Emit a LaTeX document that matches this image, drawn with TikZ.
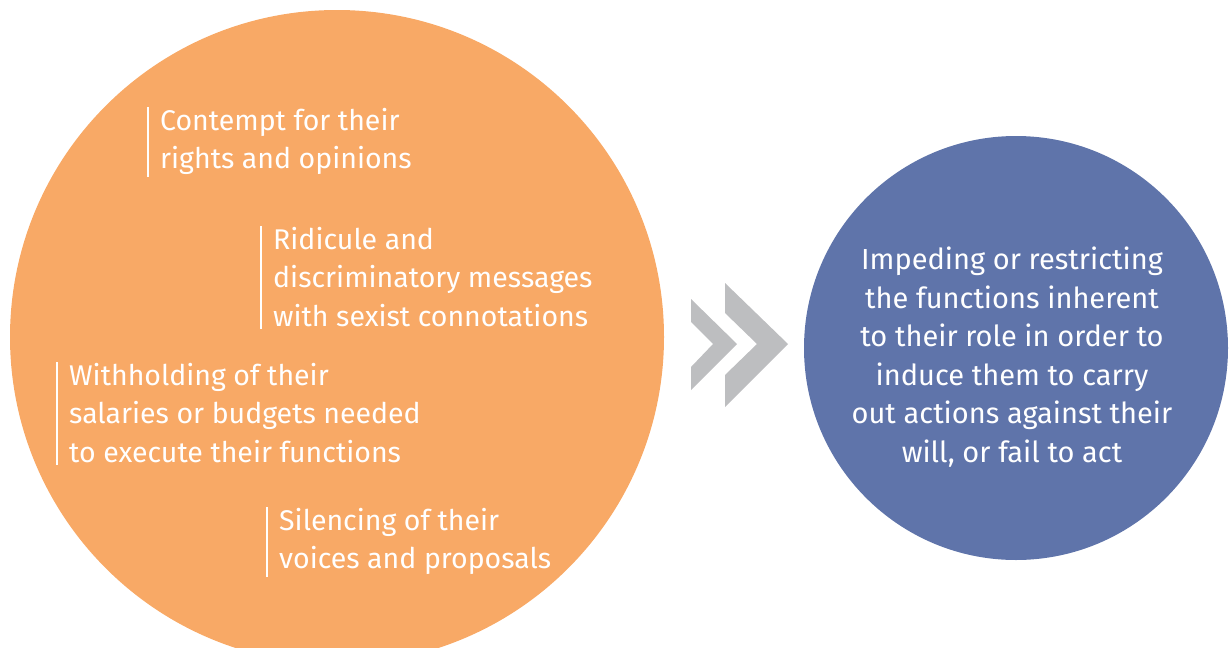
\documentclass[tikz,border=0pt]{standalone}
\usepackage{fontspec}
\setmainfont{Fira Sans}
\definecolor{orangefill}{HTML}{F8A966}
\definecolor{bluefill}{HTML}{5F74AA}
\definecolor{chevgray}{HTML}{BDBEC0}
\begin{document}
\begin{tikzpicture}[x=1pt,y=-1pt,
  txt/.style={inner sep=0pt, text=white, font=\fontsize{28.5}{38.5}\selectfont, align=left, anchor=north west},
  ctxt/.style={inner sep=0pt, text=white, font=\fontsize{29}{38.5}\selectfont, align=center},
  bar/.style={draw=white, line width=2pt},
  chev/.style={fill=chevgray, draw=none}]
\useasboundingbox (0,0) rectangle (1232,648);
\begin{scope}
\clip (0,0) rectangle (1232,648);
\node[circle, fill=orangefill, minimum size=654pt, inner sep=0pt] (big) at (337,337) {};
\end{scope}
\node[circle, fill=bluefill, minimum size=424pt, inner sep=0pt] (small) at (1016,348) {};
% chevrons
\fill[chev] (691,299) -- (737,344) -- (691,390) -- (691,367) -- (713,344) -- (691,322) -- cycle;
\fill[chev] (725,283) -- (788,344) -- (725,407) -- (725,375) -- (757,344) -- (725,313) -- cycle;
% texts
\node[txt] (t1) at (160,108) {Contempt for their\\rights and opinions};
\node[txt] (t2) at (273,227) {Ridicule and\\discriminatory messages\\with sexist connotations};
\node[txt] (t3) at (69,363) {Withholding of their\\salaries or budgets needed\\to execute their functions};
\node[txt] (t4) at (279,508) {Silencing of their\\voices and proposals};
\foreach \t in {t1,t2,t3,t4}{
  \draw[bar] ([xshift=-12pt,yshift=1pt]\t.north west) -- ([xshift=-12pt,yshift=-2pt]\t.south west);
}
\node[ctxt] (tb) at (1012,357) {Impeding or restricting\\the functions inherent\\to their role in order to\\induce them to carry\\out actions against their\\will, or fail to act};
\end{tikzpicture}
\end{document}
